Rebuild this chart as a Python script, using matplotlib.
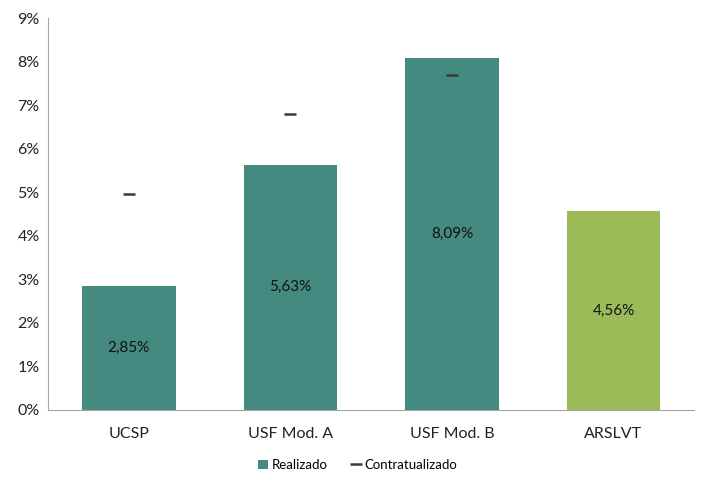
import matplotlib
matplotlib.use("Agg")
import matplotlib.pyplot as plt
from matplotlib.lines import Line2D
from matplotlib.patches import Patch

categories = ["UCSP", "USF Mod. A", "USF Mod. B", "ARSLVT"]
realizado = [2.85, 5.63, 8.09, 4.56]
contratualizado = [4.95, 6.8, 7.7, None]
bar_colors = ["#458A80", "#458A80", "#458A80", "#9BBB59"]
yticks = [0, 1, 2, 3, 4, 5, 6, 7, 8, 9]

plt.rcParams['font.family'] = ['Lato', 'DejaVu Sans']

fig = plt.figure(figsize=(7.07, 4.88), dpi=100)
ax = fig.add_axes([0.068, 0.160, 0.914, 0.803])

x = list(range(len(categories)))
ax.bar(x, realizado, width=0.58, color=bar_colors, zorder=2)
for xi, v in zip(x, realizado):
    ax.text(xi, v / 2, f"{v:.2f}%".replace(".", ","), ha="center", va="center",
            fontsize=11, color="#111111", zorder=3)

cx = [xi for xi, c in zip(x, contratualizado) if c is not None]
cy = [c for c in contratualizado if c is not None]
ax.plot(cx, cy, linestyle="none", marker="_", markersize=9, mew=1.8,
        color="#3a3a3a", zorder=3)

ax.set_xlim(-0.5, len(categories) - 0.5)
ax.set_ylim(0, 9)
ax.set_yticks(yticks)
ax.set_yticklabels([f"{t}%" for t in yticks], fontsize=11.5, color="#222222")
ax.set_xticks(x)
ax.set_xticklabels(categories, fontsize=11.5, color="#222222")
ax.tick_params(axis="both", length=0, pad=6)
ax.tick_params(axis="x", pad=12)
for s in ["top", "right"]:
    ax.spines[s].set_visible(False)
ax.spines["left"].set_color("#A6A6A6")
ax.spines["bottom"].set_color("#A6A6A6")

handles = [Patch(facecolor="#458A80", label="Realizado"),
           Line2D([], [], linestyle="none", marker="_", markersize=8, mew=1.8,
                  color="#3a3a3a", label="Contratualizado")]
fig.legend(handles=handles, loc="center", bbox_to_anchor=(0.506, 0.047), ncol=2,
           frameon=False, fontsize=9.5, handlelength=0.7, handleheight=0.7,
           handletextpad=0.3, columnspacing=1.8)

fig.savefig("out.png", dpi=100)
